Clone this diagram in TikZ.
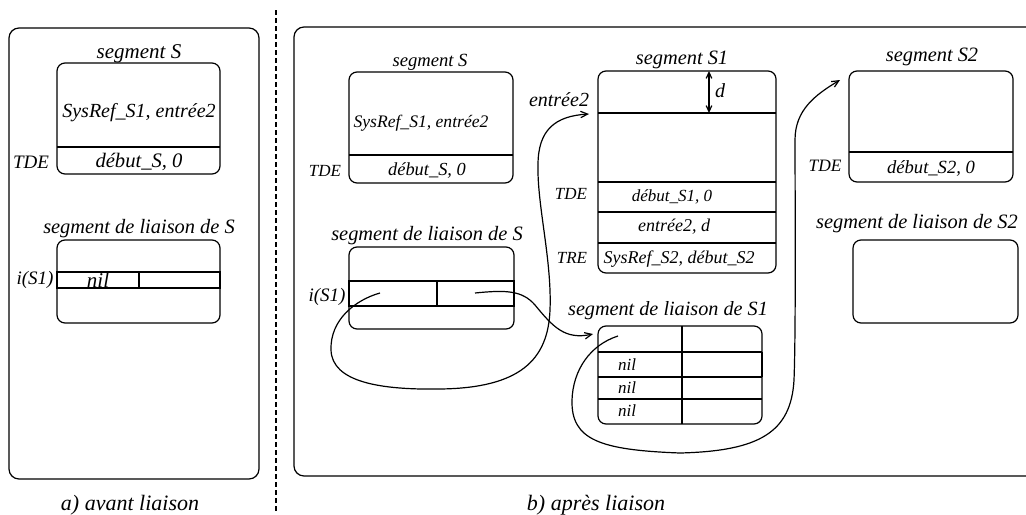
\documentclass[tikz,border=0pt]{standalone}
\usepackage{fontspec}
\setmainfont{Liberation Serif}
\newfontfamily\figfont{Liberation Serif}
\usetikzlibrary{arrows.meta,fit}

\tikzset{
	panel/.style={draw, line width=0.6pt, rounded corners=5pt, inner sep=0pt},
	segbox/.style={draw, line width=0.6pt, rounded corners=4pt, inner sep=0pt},
	lbl/.style={font=\figfont\fontsize{#1}{#1}\selectfont\itshape, inner sep=0pt},
	sep/.style={line width=0.6pt, dash pattern=on 2.5pt off 1.5pt},
	thick edge/.style={line width=1.1pt},
	link/.style={line width=0.6pt, -{Straight Barb[length=3.5pt,width=3.2pt]}},
	dimarrow/.style={line width=0.6pt, {Straight Barb[length=3pt,width=2.8pt]}-{Straight Barb[length=3pt,width=2.8pt]}},
}

\begin{document}
\begin{tikzpicture}[x=0.5pt, y=-0.5pt, line width=0.6pt]
	\useasboundingbox (0,0) rectangle (1026,514);

	% a) avant liaison
	\node (panelA) [panel, fit={(9,28) (259,479)}] {};
	\node (capA) [lbl=11] at (130,505) {a) avant liaison};

	\node (segSa) [segbox, fit={(57,63) (220,174)}] {};
	\draw (57,147) -- (220,147);
	\node (tSegSa) [lbl=10.5] at (139,54) {segment S};
	\node (refSa) [lbl=10] at (139,113) {SysRef\_S1, entrée2};
	\node (debSa) [lbl=10.3] at (139,162) {début\_S, 0};
	\node (tdeSa) [lbl=9.5] at (31,162) {TDE};

	\node (lkSa) [segbox, fit={(57,240) (220,323)}] {};
	\draw (57,272) rectangle (220,288);
	\draw (139,272) -- (139,288);
	\draw [thick edge] (220,272) -- (220,288);
	\node (tLkSa) [lbl=10.2] at (139,229) {segment de liaison de S};
	\node (iSa) [lbl=9.5] at (35,280) {i(S1)};
	\node (nilSa) [lbl=10.5] at (98,280) {nil};

	% separation
	\draw [sep] (276,10) -- (276,514);

	% b) apres liaison
	\node (panelB) [panel, fit={(294,27) (1040,476)}] {};
	\node (capB) [lbl=11] at (596,505) {b) après liaison};

	% segment S
	\node (segSb) [segbox, fit={(349,72) (513,183)}] {};
	\draw (349,155) -- (513,155);
	\node (tSegSb) [lbl=9.3] at (430,62) {segment S};
	\node (refSb) [lbl=8.8] at (421,123) {SysRef\_S1, entrée2};
	\node (debSb) [lbl=9.2] at (427,171) {début\_S, 0};
	\node (tdeSb) [lbl=8.5] at (325,171) {TDE};

	\node (lkSb) [segbox, fit={(349,247) (514,329)}] {};
	\draw (349,281) rectangle (514,306);
	\draw (437,281) -- (437,306);
	\draw [thick edge] (349,281) -- (349,306) (514,281) -- (514,306);
	\node (tLkSb) [lbl=10.2] at (427,236) {segment de liaison de S};
	\node (iSb) [lbl=9.5] at (327,297) {i(S1)};

	% segment S1
	\node (segS1) [segbox, fit={(598,71) (776,273)}] {};
	\draw (598,113) -- (776,113);
	\draw [thick edge] (598,182) -- (776,182);
	\draw (598,212) -- (776,212);
	\draw (598,243) -- (776,243);
	\node (tSegS1) [lbl=10.2] at (682,60) {segment S1};
	\node (entS1) [lbl=10] at (559,100) {entrée2};
	\coordinate (dTop) at (709,71);
	\coordinate (dBot) at (709,113);
	\draw [dimarrow] (dTop) -- (dBot);
	\node (dS1) [lbl=10] at (720,91) {d};
	\node (tdeS1) [lbl=8.5] at (571,194) {TDE};
	\node (debS1) [lbl=8.5] at (672,197) {début\_S1, 0};
	\node (entdS1) [lbl=9] at (674,227) {entrée2, d};
	\node (treS1) [lbl=8.5] at (572,258) {TRE};
	\node (refS1) [lbl=9] at (679,259) {SysRef\_S2, début\_S2};

	\node (lkS1) [segbox, fit={(598,326) (762,424)}] {};
	\draw [thick edge] (598,352) -- (762,352);
	\draw (598,377) -- (762,377);
	\draw (598,399) -- (762,399);
	\draw (682,326) -- (682,424);
	\draw [thick edge] (762,352) -- (762,377);
	\node (tLkS1) [lbl=10.1] at (668,311) {segment de liaison de S1};
	\node (nilA) [lbl=8.5] at (627,365) {nil};
	\node (nilB) [lbl=8.5] at (627,388) {nil};
	\node (nilC) [lbl=8.5] at (627,411) {nil};

	% segment S2
	\node (segS2) [segbox, fit={(849,71) (1013,182)}] {};
	\draw (849,152) -- (1013,152);
	\node (tSegS2) [lbl=10.2] at (932,57) {segment S2};
	\node (tdeS2) [lbl=8.7] at (825,166) {TDE};
	\node (debS2) [lbl=9.3] at (931,168) {début\_S2, 0};

	\node (lkS2) [segbox, fit={(853,240) (1018,323)}] {};
	\node (tLkS2) [lbl=10.2] at (917,224) {segment de liaison de S2};

	% liens
	\coordinate (ptrA) at (380,293);
	\coordinate (ptrB) at (475,293);
	\coordinate (ptrC) at (618,336);
	\coordinate (inEnt) at (589,114);
	\coordinate (inLkS1) at (593,334);
	\coordinate (inS2) at (840,80);
	\draw [link] (ptrA) .. controls (355,300) and (330,320) .. (331,350) .. controls (332,382) and (380,390) .. (440,389) .. controls (520,388) and (548,360) .. (550,310) .. controls (552,260) and (537,205) .. (538,165) .. controls (538,130) and (555,116) .. (inEnt);
	\draw [link] (ptrB) .. controls (505,290) and (522,290) .. (535,305) .. controls (553,327) and (565,340) .. (inLkS1);
	\draw [link] (ptrC) .. controls (590,345) and (573,370) .. (572,400) .. controls (571,440) and (600,450) .. (680,453) .. controls (760,451) and (791,432) .. (794,380) .. controls (796,330) and (795,180) .. (795,140) .. controls (795,110) and (815,95) .. (inS2);
\end{tikzpicture}
\end{document}
